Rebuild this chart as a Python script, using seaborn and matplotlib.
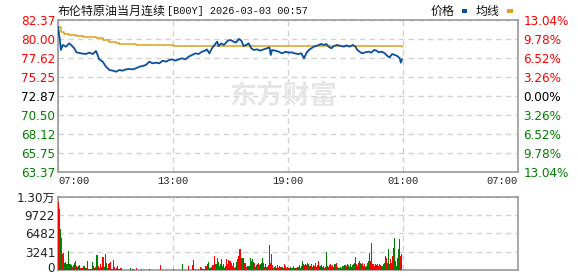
import numpy as np
import pandas as pd
import matplotlib
matplotlib.use('Agg')
import matplotlib.pyplot as plt
import matplotlib.transforms as mtransforms
from matplotlib.patches import Rectangle
import seaborn as sns

# ---------------- data ----------------
# minutes after 07:00
price_min = [0, 6, 9, 15, 25, 35, 41, 51, 58, 72, 88, 98, 109, 119, 124, 129, 140, 150, 161, 171,
             182, 192, 202, 213, 223, 234, 244, 255, 265, 275, 286, 296, 307, 317, 328, 338, 348, 359,
             367, 378, 388, 399, 409, 420, 430, 440, 451, 461, 466, 474, 482, 490, 498, 503, 511, 519,
             524, 532, 540, 550, 557, 566, 574, 581, 589, 597, 605, 613, 623, 633, 644, 654, 662, 666,
             670, 680, 691, 701, 712, 722, 731, 741, 751, 762, 770, 777, 785, 793, 801, 809, 816, 824,
             833, 840, 847, 856, 864, 874, 885, 895, 903, 913, 923, 931, 937, 944, 952, 962, 973, 981,
             989, 997, 1004, 1014, 1023, 1031, 1038, 1046, 1054, 1062, 1070, 1073, 1077]
price_val = [81.54, 79.87, 78.62, 79.25, 79.04, 79.45, 79.25, 78.83, 78.33, 78.20, 78.12, 78.29, 78.12,
             78.50, 78.00, 77.45, 77.16, 76.54, 76.12, 76.04, 75.91, 76.12, 76.04, 76.20, 76.25, 76.20,
             76.33, 76.54, 76.62, 76.75, 77.16, 76.95, 77.04, 76.95, 77.29, 77.16, 77.37, 77.45,
             77.29, 77.45, 77.58, 77.45, 77.79, 78.00, 78.20, 78.12, 78.41, 78.54, 78.70, 78.20, 78.83,
             79.25, 79.66, 79.12, 79.45, 79.25, 79.45, 79.79, 79.87, 79.66, 79.54, 80.00, 79.79, 79.12,
             79.25, 79.45, 78.83, 78.62, 78.70, 78.54, 78.70, 78.83, 78.95, 78.00, 78.62, 78.54, 78.41,
             78.20, 78.41, 78.29, 78.33, 78.20, 78.12, 78.20, 77.58, 78.20, 78.62, 78.83, 79.04, 79.12,
             79.25, 79.37, 79.25, 79.37, 79.04, 78.83, 79.12, 79.25, 79.12, 79.04, 79.20, 79.04, 79.25,
             79.04, 78.62, 78.41, 78.20, 78.33, 78.41, 78.29, 78.62, 78.54, 78.33, 78.41, 78.20, 77.87,
             77.70, 78.12, 78.00, 77.87, 77.58, 77.04, 77.45]

avg_min = [0, 9, 20, 35, 56, 77, 98, 119, 140, 161, 182, 192, 234, 244, 359, 955, 1077]
avg_val = [81.54, 80.91, 80.62, 80.50, 80.37, 80.29, 80.20, 80.08, 79.87, 79.66, 79.45, 79.33,
           79.33, 79.25, 79.14, 79.12, 78.96]

vol_val = [12077, 10774, 7222, 5742, 2782, 2960, 1300, 1420, 1000, 1000,
           3374, 1000, 1120, 830, 590, 830, 1300, 1600, 710, 590,
           710, 830, 410, 410, 410, 710, 710, 300, 410, 1600,
           180, 180, 180, 180, 1420, 710, 410, 590, 2600, 2600,
           710, 410, 1000, 590, 2300, 2300, 590, 2780, 1300, 410,
           1120, 1300, 1420, 120, 240, 1776, 590, 240, 410, 710,
           120, 180, 360, 360,
           60, 60, 60, 60, 60, 60, 60, 60,
           410, 60, 120, 120, 60, 60, 360, 60, 60,
           60, 60, 120, 60, 60, 60, 60, 60, 60, 60, 120, 60, 60, 60, 60, 60, 60, 60, 60, 60, 60,
           890,
           60, 60, 60, 60, 60, 60, 60, 60, 60, 60, 60, 60, 120, 60, 60, 60, 60, 60, 60, 60, 60,
           1066,
           60, 60, 60, 60, 60,
           710,
           60, 60, 60,
           890, 1776,
           60, 120, 60, 60, 120, 60,
           590, 410,
           120, 120, 120,
           710, 710, 1000, 1420, 410, 410, 530, 890, 830, 2486,
           1000, 1000, 2130, 1420, 710, 1000, 2010, 710, 1000, 410,
           710, 2010, 1000, 1776, 1600,
           1540, 1300, 710, 1184, 410, 590, 1420, 1894, 2486, 3670,
           3670, 2130, 2130, 2130, 1300, 1300, 590, 710, 710, 710,
           2190, 1600, 1894, 1420, 1300, 590, 830, 1000, 1300, 830,
           1000, 1300, 2190, 1300, 530, 1000, 590, 530, 830, 4380,
           1300, 2780, 830, 410, 590, 710, 360, 830, 410, 710,
           530, 590, 590, 410, 1000, 710, 410, 590, 410, 300,
           590, 410, 410, 710, 410, 410, 300, 590, 590, 830,
           410, 710, 1600, 1000, 830, 1000, 830, 1300, 1120, 710,
           710, 1000, 590, 830, 710, 1300, 590, 830, 1600, 710,
           710, 830, 590, 710, 410, 590, 3200, 710, 590, 830,
           1000, 710, 830, 590, 1000, 1000, 1300, 590, 410, 410,
           590, 410, 710, 710, 830, 830, 710, 1000, 830, 590,
           1000, 590, 830, 1000, 1300, 2300, 1000, 710, 1300, 1600,
           1300, 1000, 1300, 710, 1000, 590, 710, 1300, 1600, 2960,
           1600, 4854, 1000, 1000, 710, 1000, 830, 1000, 710, 1120,
           830, 710, 710, 1000, 1300, 2486, 2190, 1300, 3790, 1000,
           1894, 1300, 2486, 3966, 5742, 1600, 710, 2190, 3670, 5446,
           2486, 2780]
vol_dir = list(
    "rggrrrgrgr" "grggrgggrg" "ggrrrggrrg" "rrrrggrrgg" "rgrrrrgggr" "rgrggrrrrg" "rrrr"
    "grgrgrgr" "grrrgrrgr" "rrrgrrrrgrrrrrgrrrrrr" "r" "ggggrgggggrggggggrggg" "g" "grgrg"
    "r" "rgr" "rr" "grgrgr" "rr" "grg" "grggrgrrgr" "ggrgrgrggg" "rrgrg"
    "rgrgrrggrr" "rgggrgrrgr" "grggrrgrrr" "grgrrrgrrg" "rrrrgrrgrr" "rrggrgrrrr"
    "grgrgrrrgr" "grggrrrggr" "rrgrrrrrrr" "grgrrggrrg" "rrrrgrrrgr" "grgrggrrgr"
    "grgrggrgrg" "grrgrrgrgr" "rrrgrgrgrg" "rggrggrrgr" "rrrggrgggg" "rr")

left_labels = ["82.37", "80.00", "77.62", "75.25", "72.87", "70.50", "68.12", "65.75", "63.37"]
right_labels = ["13.04%", "9.78%", "6.52%", "3.26%", "0.00%", "3.26%", "6.52%", "9.78%", "13.04%"]
label_side = [1, 1, 1, 1, 0, -1, -1, -1, -1]
xtick_pos = [0, 360, 720, 1080, 1440]
xtick_labels = ["07:00", "13:00", "19:00", "01:00", "07:00"]
vol_ticks = [12963, 9722, 6482, 3241, 0]
vol_labels = ["1.30万", "9722", "6482", "3241", "0"]

# ---------------- style ----------------
sns.set_style('white')
plt.rcParams['font.family'] = ['DejaVu Sans', 'Noto Sans CJK SC']

BLUE = '#0a4f9e'
GOLD = '#dca11d'
RED = '#ff0000'
GREEN = '#008000'
FRAME = '#999999'
GRID = '#d2d2d2'
side_col = {1: RED, 0: '#000000', -1: GREEN}

W, H = 578, 276
fig = plt.figure(figsize=(W / 100, H / 100), dpi=100)
fig.patch.set_facecolor('white')


def rect(l, t, r, b):
    return [l / W, 1 - b / H, (r - l) / W, (b - t) / H]


ax = fig.add_axes(rect(58, 20, 518, 172))
axv = fig.add_axes(rect(58, 197, 518, 270))
PX = 0.72  # points per pixel

# watermark
fig.text(283 / W, 1 - 97 / H, "东方财富", fontsize=27 * PX, color='#e6e6e6',
         fontweight='bold', style='italic', ha='center', va='center',
         family=['Noto Sans CJK SC'], zorder=0)

# ---------------- main price panel ----------------
sns.lineplot(x=avg_min, y=avg_val, ax=ax, color=GOLD, linewidth=1.1, drawstyle='steps-post',
             zorder=3)
sns.lineplot(x=price_min, y=price_val, ax=ax, color=BLUE, linewidth=1.3, zorder=4)

lv = [float(s) for s in left_labels]
ax.set_xlim(0, 1440)
ax.set_ylim(lv[-1], lv[0])
ax.set_yticks(lv)
ax.set_yticklabels(left_labels)
for t, s in zip(ax.get_yticklabels(), label_side):
    t.set_color(side_col[s])
ax.set_xticks(xtick_pos)
ax.set_xticklabels(xtick_labels, family=['Liberation Mono'], fontsize=10.5 * PX)
xl = ax.get_xticklabels()
xl[0].set_ha('left')
xl[-1].set_ha('right')
ax.tick_params(axis='y', length=0, pad=2, labelsize=12 * PX)
ax.tick_params(axis='x', length=0, pad=3)
ax.set_xlabel('')
ax.set_ylabel('')
ax.set_axisbelow(True)
ax.grid(True, ls=(0, (4, 3)), color=GRID, lw=1)
for sp in ax.spines.values():
    sp.set_color(FRAME)
    sp.set_linewidth(1.2)
    sp.set_visible(True)
ax.patch.set_alpha(0)

ax2 = ax.twinx()
ax2.set_ylim(lv[-1], lv[0])
ax2.set_yticks(lv)
ax2.set_yticklabels(right_labels)
for t, s in zip(ax2.get_yticklabels(), label_side):
    t.set_color(side_col[s])
ax2.tick_params(axis='y', length=0, pad=4, labelsize=12 * PX)
ax2.grid(False)
for sp in ax2.spines.values():
    sp.set_visible(False)

# ---------------- volume panel ----------------
n = len(vol_val)
vdf = pd.DataFrame({'t': np.linspace(1.5, 1075.5, n), 'v': vol_val, 'd': vol_dir})
bw = 1077 / n
for d, c in (('g', GREEN), ('r', RED)):
    sub = vdf[vdf['d'] == d]
    axv.bar(sub['t'], sub['v'], width=bw, color=c, linewidth=0, align='center', zorder=3)
axv.set_xlim(0, 1440)
axv.set_ylim(0, vol_ticks[0])
axv.set_yticks(vol_ticks)
axv.set_yticklabels(vol_labels)
axv.set_xticks(xtick_pos)
axv.set_xticklabels([])
axv.tick_params(axis='y', length=0, pad=2, labelsize=12 * PX, labelcolor='#222222')
axv.tick_params(axis='x', length=0)
axv.set_axisbelow(True)
axv.grid(True, ls=(0, (4, 3)), color=GRID, lw=1)
for sp in axv.spines.values():
    sp.set_color(FRAME)
    sp.set_linewidth(1.2)
    sp.set_visible(True)
axv.patch.set_alpha(0)
# nudge the bottom "0" label up slightly so it is not clipped
zero_lab = axv.get_yticklabels()[-1]
zero_lab.set_transform(zero_lab.get_transform() +
                       mtransforms.ScaledTranslation(0, 2.5 / 100, fig.dpi_scale_trans))

# ---------------- title & legend ----------------
fig.text(58 / W, 1 - 11 / H, "布伦特原油当月连续", fontsize=12 * PX, family=['Noto Sans CJK SC'],
         ha='left', va='center', color='#111111')
fig.text(167 / W, 1 - 11 / H, "[B00Y] 2026-03-03 00:57", fontsize=10.2 * PX,
         family=['Liberation Mono'], ha='left', va='center', color='#111111')
fig.text(431 / W, 1 - 11 / H, "价格", fontsize=12 * PX, family=['Noto Sans CJK SC'],
         ha='left', va='center', color='#111111')
fig.text(476 / W, 1 - 11 / H, "均线", fontsize=12 * PX, family=['Noto Sans CJK SC'],
         ha='left', va='center', color='#111111')
fig.patches.append(Rectangle((462 / W, 1 - 13 / H), 5 / W, 4 / H, transform=fig.transFigure,
                             facecolor=BLUE, edgecolor='none'))
fig.patches.append(Rectangle((507 / W, 1 - 13 / H), 6 / W, 4 / H, transform=fig.transFigure,
                             facecolor=GOLD, edgecolor='none'))

fig.savefig('out.png', dpi=100)
